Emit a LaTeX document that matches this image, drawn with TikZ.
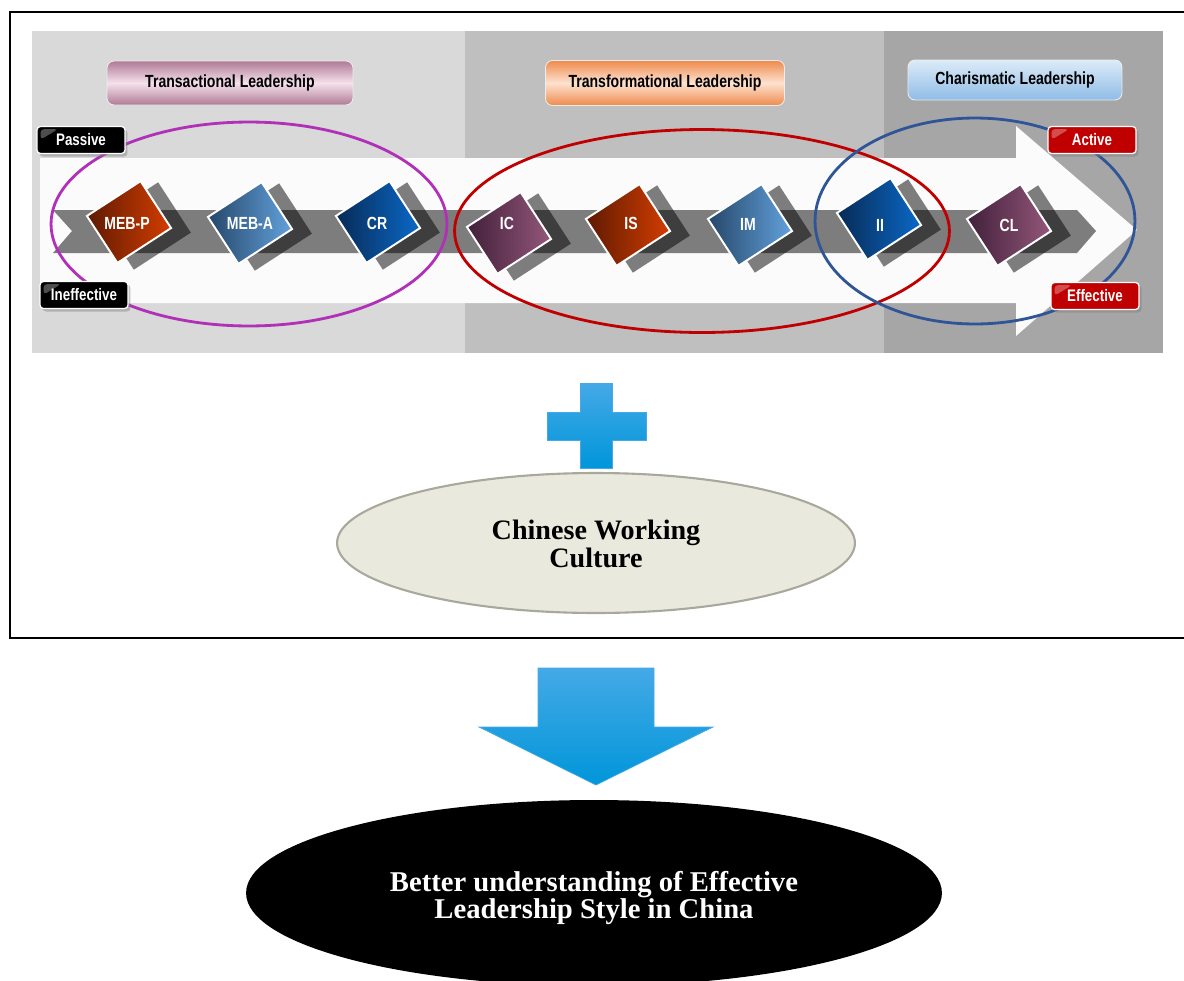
\documentclass[tikz,border=0pt]{standalone}
\usepackage{fontspec}
\setmainfont{Liberation Serif}
\newfontfamily\narrowsans[FakeStretch=0.8]{Liberation Sans}
\usetikzlibrary{shapes.geometric,shadows}
\definecolor{panelA}{HTML}{D9D9D9}
\definecolor{panelB}{HTML}{BFBFBF}
\definecolor{panelC}{HTML}{A6A6A6}
\definecolor{arrowwhite}{HTML}{FBFBFB}
\definecolor{orangeD}{HTML}{5E1A02}
\definecolor{orangeL}{HTML}{D43D00}
\definecolor{lblueD}{HTML}{26476A}
\definecolor{lblueL}{HTML}{62A2DC}
\definecolor{dblueD}{HTML}{082A55}
\definecolor{dblueL}{HTML}{0A69C8}
\definecolor{purpD}{HTML}{41203A}
\definecolor{purpL}{HTML}{94577A}
\definecolor{tranA}{HTML}{B07A96}
\definecolor{tranB}{HTML}{F4E1EB}
\definecolor{transfA}{HTML}{EF8A4C}
\definecolor{transfB}{HTML}{FDE2D0}
\definecolor{charA}{HTML}{8FBCE6}
\definecolor{charB}{HTML}{DCEBF8}
\definecolor{tagred}{HTML}{C00000}
\definecolor{ellpurple}{HTML}{B030B8}
\definecolor{ellred}{HTML}{C00000}
\definecolor{ellblue}{HTML}{2F5597}
\definecolor{plusA}{HTML}{45A9E6}
\definecolor{plusB}{HTML}{0096DA}
\definecolor{cultfill}{HTML}{E9E9DE}
\definecolor{cultdraw}{HTML}{A8A89C}

\begin{document}
\begin{tikzpicture}[x=0.02cm, y=-0.02cm,
    sqbox/.style={rectangle, rotate=33, minimum width=1.28cm, minimum height=1.12cm, draw=white, line width=1.1pt},
    sqshadow/.style={rectangle, rotate=33, minimum width=1.36cm, minimum height=1.2cm, fill=black, opacity=.5},
    sqlabel/.style={text=white, inner sep=0pt, font=\narrowsans\bfseries\fontsize{10}{12}\selectfont},
    ora/.style={left color=orangeD, right color=orangeL},
    lbl/.style={left color=lblueD, right color=lblueL},
    dbl/.style={left color=dblueD, right color=dblueL},
    pur/.style={left color=purpD, right color=purpL},
    headbox/.style={rectangle, rounded corners=4pt, draw=white!85!gray, line width=.5pt, minimum height=.88cm, font=\narrowsans\bfseries\fontsize{10}{12}\selectfont},
    tagbox/.style={rectangle, rounded corners=2pt, draw=white, line width=.7pt, minimum width=1.76cm, minimum height=.54cm, inner sep=0pt, text=white, font=\narrowsans\bfseries\fontsize{9.5}{11}\selectfont, drop shadow={opacity=.45, shadow xshift=.05cm, shadow yshift=-.06cm},
        path picture={\fill[white, opacity=.3] ([shift={(2pt,-1.5pt)}]path picture bounding box.north west) -- ++(10pt,0) -- ++(-10pt,-6pt) -- cycle;}},
    group/.style={line width=1.6pt},
    blueshade/.style={top color=plusA, bottom color=plusB, draw=plusA, line width=.4pt}]

\useasboundingbox (0,0) rectangle (1184,981);
\fill[panelA] (32,31) rectangle (465,353);
\fill[panelB] (465,31) rectangle (884,353);
\fill[panelC] (884,31) rectangle (1163,353);
\fill[arrowwhite] (40,158) -- (1016,158) -- (1016,126) -- (1137,230) -- (1016,336) -- (1016,303) -- (40,303) -- cycle;
\fill[black, opacity=.5] (53,210) -- (1077,210) -- (1096,231) -- (1077,253) -- (53,253) -- (72,231) -- cycle;

\foreach \n/\x/\y/\lx/\ly/\c/\t in {1/129/222/127/223/ora/MEB-P, 2/250/223/250/223/lbl/MEB-A, 3/378/222/377/223/dbl/CR,
    4/509/233/507/223/pur/IC, 5/628/225/631/223/ora/IS, 6/750/225/748/224/lbl/IM, 7/879/219/880/225/dbl/II, 8/1009/225/1009/225/pur/CL}
{
    \node[sqshadow] (sh\n) at (\x+17,\y+4) {};
    \node[sqbox, \c] (sq\n) at (\x,\y) {};
    \node[sqlabel] (lb\n) at (\lx,\ly) {\t};
}

\draw[group, ellpurple] (249,224) ellipse [x radius=3.96cm, y radius=2.04cm];
\draw[group, ellred] (702,231) ellipse [x radius=4.95cm, y radius=2.03cm];
\draw[group, ellblue] (975,221) ellipse [x radius=3.2cm, y radius=2.06cm];

\node[tagbox, fill=black] (passive) at (81,140) {Passive};
\node[tagbox, fill=black] (ineffective) at (84,295) {Ineffective};
\node[tagbox, fill=tagred] (active) at (1092,140) {Active};
\node[tagbox, fill=tagred] (effective) at (1095,296) {Effective};

\node[headbox, minimum width=4.92cm, top color=tranA, bottom color=tranA, middle color=tranB] (transac) at (230,83) {Transactional Leadership};
\node[headbox, minimum width=4.78cm, minimum height=.9cm, top color=transfA, bottom color=transfA, middle color=transfB] (transform) at (665,83) {Transformational Leadership};
\node[headbox, minimum width=4.28cm, minimum height=.8cm, top color=charB, bottom color=charA] (charis) at (1015,80) {Charismatic Leadership};

\draw[line width=1.2pt] (1200,12) -- (10,12) -- (10,638) -- (1200,638);

\shadedraw[blueshade] (580,383) -- (612,383) -- (612,412) -- (646,412) -- (646,440) -- (612,440) -- (612,468) -- (580,468) -- (580,440) -- (547,440) -- (547,412) -- (580,412) -- cycle;
\node[ellipse, minimum width=10.36cm, minimum height=2.8cm, fill=cultfill, draw=cultdraw, line width=1.2pt] (culture) at (596,543) {};
\node[align=center, font=\bfseries\fontsize{16}{15.5}\selectfont] (culturetext) at (596,544) {Chinese Working\\Culture};

\shadedraw[blueshade] (538,668) -- (654,668) -- (654,727) -- (713,727) -- (596,785) -- (479,727) -- (538,727) -- cycle;
\node[ellipse, minimum width=13.92cm, minimum height=3.72cm, fill=black] (result) at (594,893) {};
\node[text=white, align=center, font=\bfseries\fontsize{16.3}{15.5}\selectfont] (resulttext) at (594,898) {Better understanding of Effective\\Leadership Style in China};
\end{tikzpicture}
\end{document}
